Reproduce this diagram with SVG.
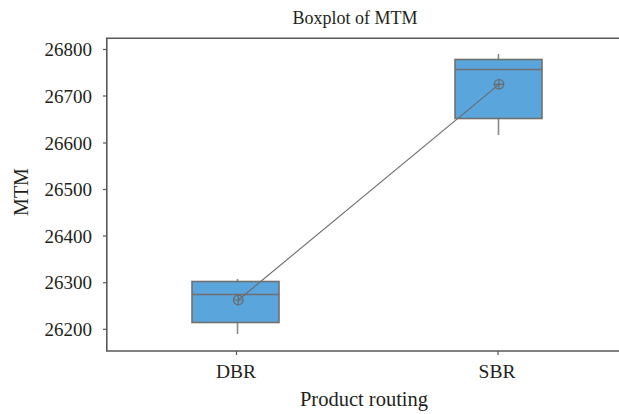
<svg xmlns="http://www.w3.org/2000/svg" width="619" height="414" viewBox="0 0 619 414">
<style>
text{font-family:"Liberation Serif","Times New Roman",serif;fill:#231f20}
.tick{font-size:19px;text-anchor:end}
.xt{font-size:19.5px;text-anchor:middle}
.axis{stroke:#58585a;stroke-width:1.6;fill:none}
.tk{stroke:#58585a;stroke-width:1.2}
.box{fill:#5aa5db;stroke:#707070;stroke-width:1.6}
.med{stroke:#707070;stroke-width:1.6}
.wh{stroke:#8a8a8a;stroke-width:1.6}
.mean{fill:none;stroke:#6a6a6a;stroke-width:1.2}
.conn{stroke:#6a6a6a;stroke-width:1.1;fill:none}
</style>
<rect width="619" height="414" fill="#ffffff"/>
<text x="355" y="24" style="font-size:18px" text-anchor="middle">Boxplot of MTM</text>
<g id="axes">
<path class="axis" d="M619 38.2H106.8V351H619"/>
<g class="tk">
<line x1="103" y1="49.5" x2="107" y2="49.5"/>
<line x1="103" y1="96" x2="107" y2="96"/>
<line x1="103" y1="143" x2="107" y2="143"/>
<line x1="103" y1="189.5" x2="107" y2="189.5"/>
<line x1="103" y1="236" x2="107" y2="236"/>
<line x1="103" y1="282.7" x2="107" y2="282.7"/>
<line x1="103" y1="329.3" x2="107" y2="329.3"/>
<line x1="236.5" y1="351" x2="236.5" y2="355"/>
<line x1="498" y1="351" x2="498" y2="355"/>
</g>
<text class="tick" x="92" y="56">26800</text>
<text class="tick" x="92" y="102.5">26700</text>
<text class="tick" x="92" y="149.5">26600</text>
<text class="tick" x="92" y="196">26500</text>
<text class="tick" x="92" y="242.5">26400</text>
<text class="tick" x="92" y="289">26300</text>
<text class="tick" x="92" y="335.5">26200</text>
<text class="xt" x="236" y="378">DBR</text>
<text class="xt" x="497" y="378">SBR</text>
<text x="364" y="406" style="font-size:20.5px" text-anchor="middle">Product routing</text>
<text x="0" y="0" style="font-size:20px" text-anchor="middle" transform="translate(28 192) rotate(-90)">MTM</text>
</g>
<g id="box-DBR">
<line class="wh" x1="237.5" y1="322" x2="237.5" y2="334"/>
<line class="wh" x1="237.5" y1="279" x2="237.5" y2="281.5"/>
<rect class="box" x="192" y="281.5" width="87" height="41"/>
<line class="med" x1="192" y1="294.5" x2="279" y2="294.5"/>
</g>
<g id="box-SBR">
<line class="wh" x1="498.5" y1="54" x2="498.5" y2="59.5"/>
<line class="wh" x1="498.5" y1="118.5" x2="498.5" y2="135"/>
<rect class="box" x="455" y="59.5" width="87" height="59"/>
<line class="med" x1="455" y1="69.5" x2="542" y2="69.5"/>
</g>
<g id="connectors">
<line class="conn" x1="238.3" y1="300" x2="499" y2="84.3"/>
</g>
<g id="mean-DBR">
<circle class="mean" cx="238.3" cy="300" r="4.8"/>
<path class="mean" d="M233.5 300h9.6M238.3 295.2v9.6"/>
</g>
<g id="mean-SBR">
<circle class="mean" cx="499" cy="84.3" r="4.8"/>
<path class="mean" d="M494.2 84.3h9.6M499 79.5v9.6"/>
</g>
</svg>
